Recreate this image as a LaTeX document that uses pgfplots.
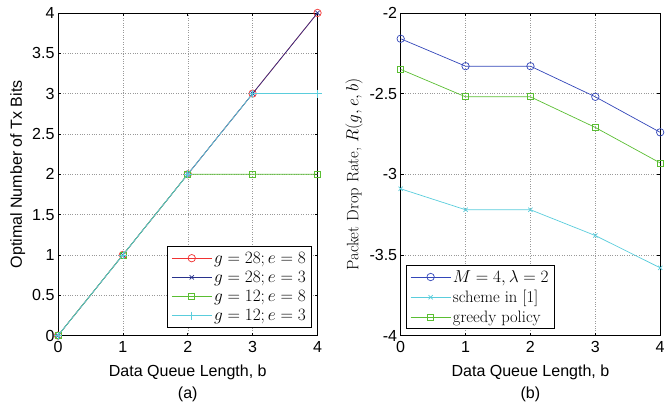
\documentclass[border={7pt 0pt 0pt 4pt}]{standalone}
\usepackage[no-math]{fontspec}
\setmainfont{Liberation Sans}
\newfontfamily\lmr{Latin Modern Roman}
\usepackage{pgfplots}
\pgfplotsset{compat=1.18}

\definecolor{cred}{RGB}{240,50,50}
\definecolor{cnavy}{RGB}{40,50,140}
\definecolor{cgreen}{RGB}{90,190,50}
\definecolor{ccyan}{RGB}{90,205,220}
\definecolor{cblue}{RGB}{50,70,185}

\pgfplotsset{
  mlab/.style={
    scale only axis, width=259pt, height=322pt,
    xmin=0, xmax=4, xtick={0,...,4},
    tick align=inside, major tick length=3pt,
    xmajorgrids, ymajorgrids,
    grid style={dotted, gray!80},
    axis line style={black, line width=0.7pt},
    tick style={black, line width=0.6pt},
    /pgf/number format/assume math mode=true,
    ticklabel style={font=\fontsize{16}{18}\selectfont},
    xticklabel style={yshift=-2pt},
    label style={font=\fontsize{16}{21}\selectfont, align=center},
    xlabel style={yshift=-6pt},
    legend cell align=left,
    legend style={font=\fontsize{16.5}{21}\selectfont, draw=black, line width=0.9pt,
      inner xsep=4pt, inner ysep=3pt, row sep=2.5pt},
    legend image code/.code={\draw[mark repeat=2,mark phase=2] plot coordinates {(0cm,0cm) (0.7cm,0cm) (1.4cm,0cm)};},
    clip mode=individual,
    every axis plot/.append style={line width=0.7pt},
  }
}

\begin{document}
\begin{tikzpicture}
\begin{axis}[mlab, name=left,
  ymin=0, ymax=4, ytick={0,0.5,...,4},
  xlabel={Data Queue Length, b\\(a)},
  ylabel={Optimal Number of Tx Bits},
  legend style={at={(rel axis cs:0.98,0.025)}, anchor=south east},
]
\addplot[cred, mark=o, mark size=3.7pt] coordinates {(0,0) (1,1) (2,2) (3,3) (4,4)};
\addplot[cnavy, mark=x, mark size=3pt] coordinates {(0,0) (1,1) (2,2) (3,3) (4,4)};
\addplot[cgreen, mark=square, mark size=3pt] coordinates {(0,0) (1,1) (2,2) (3,2) (4,2)};
\addplot[ccyan, mark=+, mark size=4pt] coordinates {(0,0) (1,1) (2,2) (3,3) (4,3)};
\legend{$g=28;e=8$, $g=28;e=3$, $g=12;e=8$, $g=12;e=3$}
\end{axis}

\begin{axis}[mlab, name=right, at={(342pt,0)},
  ymin=-4, ymax=-2, ytick={-4,-3.5,...,-2},
  xlabel={Data Queue Length, b\\(b)},
  ylabel={\lmr\fontsize{16.5}{20}\selectfont Packet Drop Rate, $R(g,e,b)$},
  legend style={at={(rel axis cs:0.02,0.02)}, anchor=south west},
]
\addplot[cblue, mark=o, mark size=3.7pt] coordinates {(0,-2.16) (1,-2.33) (2,-2.33) (3,-2.52) (4,-2.74)};
\addplot[ccyan, mark=x, mark size=3pt] coordinates {(0,-3.09) (1,-3.22) (2,-3.22) (3,-3.38) (4,-3.58)};
\addplot[cgreen, mark=square, mark size=3pt] coordinates {(0,-2.35) (1,-2.52) (2,-2.52) (3,-2.71) (4,-2.93)};
\legend{{$M=4,\lambda=2$}, {\lmr scheme in [1]}, {\lmr greedy policy}}
\end{axis}
\end{tikzpicture}
\end{document}
